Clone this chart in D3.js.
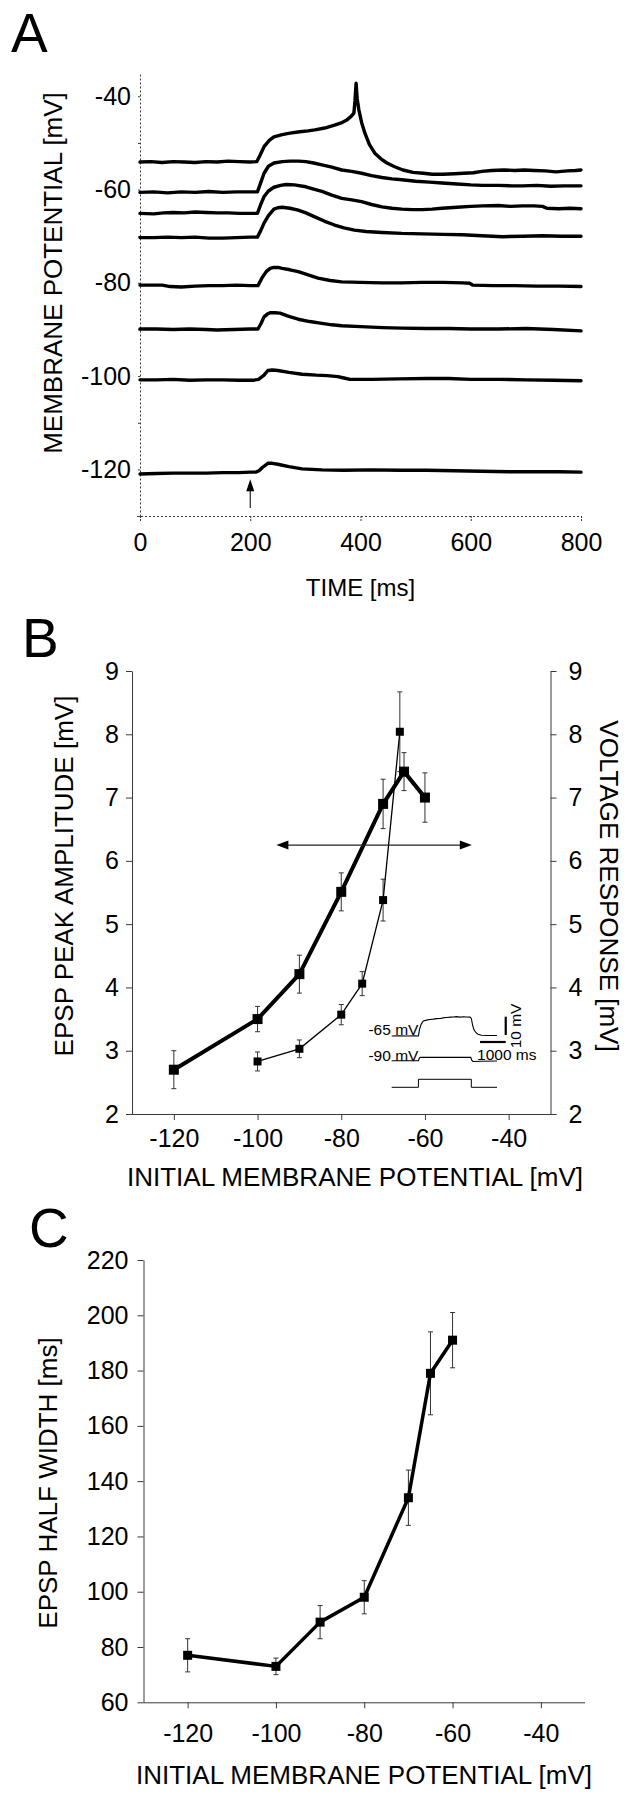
<!DOCTYPE html>
<html><head><meta charset="utf-8">
<script src="https://cdn.jsdelivr.net/npm/d3@7"></script>
<style>
body{margin:0;background:#fff;}
svg{display:block;}
text{font-family:"Liberation Sans",Arial,Helvetica,sans-serif;fill:#000;}
</style></head>
<body>
<svg id="fig" width="631" height="1800"></svg>
<script>
// ---------- Panel A data: membrane potential traces [time ms, mV] ----------
const timeTicksA = [0, 200, 400, 600, 800];
const mvTicksA = [-130, -120, -110, -100, -90, -80, -70, -60, -50, -40];
const stimTimeA = 200;
const trace1 = [[0,-54.1],[20,-54.0],[40,-54.2],[60,-54.0],[80,-54.1],[100,-54.2],[120,-54.0],[140,-54.1],[160,-53.9],[180,-54.0],[200,-54.1],[212,-54.0],[218,-52.6],[225,-50.8],[235,-49.4],[243,-48.7],[258,-48.2],[272,-47.9],[290,-47.6],[305,-47.4],[317,-47.2],[335,-46.8],[353,-46.2],[365,-45.7],[375,-45.1],[383,-44.3],[388,-43.6],[390,-41.0],[392,-37.2],[394,-40.5],[397,-42.9],[402,-45.6],[408,-47.9],[416,-50.3],[426,-52.2],[437,-53.4],[448,-54.3],[462,-55.1],[477,-55.8],[495,-56.3],[514,-56.5],[530,-56.7],[550,-56.7],[570,-56.6],[587,-56.5],[605,-56.4],[620,-56.1],[638,-55.9],[660,-55.8],[680,-55.9],[697,-55.8],[715,-55.9],[735,-56.0],[755,-56.2],[775,-56.0],[790,-55.9],[800,-55.8]];
const trace2 = [[0,-60.6],[25,-60.5],[50,-60.7],[75,-60.5],[100,-60.6],[125,-60.4],[150,-60.6],[175,-60.5],[200,-60.5],[213,-60.5],[220,-58.2],[225,-56.5],[233,-55.0],[243,-54.3],[258,-54.0],[272,-53.9],[287,-53.9],[301,-54.0],[315,-54.3],[330,-54.7],[348,-55.2],[366,-55.8],[384,-56.1],[402,-56.5],[420,-57.0],[439,-57.4],[457,-57.7],[475,-57.9],[500,-58.2],[525,-58.4],[548,-58.6],[575,-58.8],[600,-59.0],[621,-59.1],[650,-59.1],[675,-59.2],[694,-59.2],[720,-59.1],[745,-59.3],[770,-59.2],[800,-59.2]];
const trace3 = [[0,-65.1],[25,-65.2],[43,-65.0],[60,-64.9],[80,-65.0],[100,-64.8],[120,-64.9],[140,-65.0],[160,-65.0],[180,-65.1],[200,-65.1],[213,-65.1],[219,-63.2],[225,-61.5],[233,-60.3],[243,-59.5],[255,-59.1],[265,-58.9],[280,-59.0],[301,-59.4],[315,-59.9],[330,-60.4],[348,-61.2],[366,-61.9],[384,-62.2],[402,-62.6],[420,-63.2],[439,-63.7],[457,-64.0],[475,-64.2],[494,-64.3],[512,-64.3],[530,-64.2],[548,-64.0],[575,-63.8],[600,-63.6],[621,-63.5],[650,-63.4],[672,-63.6],[694,-63.5],[715,-63.5],[730,-63.6],[738,-64.0],[760,-64.1],[780,-64.0],[800,-64.1]];
const trace4 = [[0,-70.3],[25,-70.3],[50,-70.2],[75,-70.3],[100,-70.2],[125,-70.4],[150,-70.4],[175,-70.3],[200,-70.2],[213,-70.2],[219,-68.8],[225,-67.2],[233,-65.6],[243,-64.2],[250,-63.9],[258,-63.8],[272,-64.0],[287,-64.4],[301,-65.0],[316,-65.8],[335,-66.8],[353,-67.6],[370,-68.2],[389,-68.7],[410,-69.0],[439,-69.2],[475,-69.4],[512,-69.5],[550,-69.6],[585,-69.7],[620,-69.9],[658,-70.1],[695,-70.0],[731,-69.9],[765,-70.0],[800,-70.0]];
const trace5 = [[0,-80.5],[25,-80.5],[40,-80.5],[55,-80.8],[75,-80.9],[100,-80.7],[125,-80.6],[150,-80.6],[175,-80.5],[200,-80.6],[214,-80.6],[222,-78.8],[229,-77.6],[236,-76.9],[243,-76.7],[250,-76.7],[258,-76.9],[272,-77.2],[287,-77.6],[305,-78.3],[323,-79.0],[345,-79.5],[366,-79.8],[400,-79.9],[439,-80.0],[475,-80.0],[512,-79.9],[550,-79.9],[585,-80.0],[598,-80.1],[604,-80.5],[640,-80.6],[680,-80.6],[720,-80.7],[760,-80.7],[800,-80.8]];
const trace6 = [[0,-89.9],[30,-89.9],[60,-90.0],[90,-89.9],[120,-90.0],[140,-90.1],[170,-90.0],[200,-89.9],[214,-89.9],[220,-88.6],[225,-87.3],[231,-86.7],[236,-86.4],[245,-86.4],[254,-86.5],[270,-87.2],[287,-87.8],[308,-88.3],[330,-88.7],[348,-89.0],[366,-89.2],[400,-89.4],[440,-89.6],[475,-89.7],[520,-89.8],[560,-89.8],[600,-89.9],[650,-89.9],[700,-89.8],[750,-90.0],[800,-90.3]];
const trace7 = [[0,-100.8],[30,-100.8],[60,-100.7],[90,-100.9],[120,-100.8],[150,-100.8],[180,-100.9],[205,-100.9],[215,-100.7],[225,-99.8],[232,-98.8],[240,-98.7],[250,-98.8],[270,-99.2],[294,-99.6],[320,-99.8],[340,-99.9],[359,-100.1],[370,-100.4],[381,-100.7],[420,-100.7],[470,-100.6],[520,-100.5],[560,-100.5],[600,-100.7],[650,-100.7],[700,-100.8],[750,-100.9],[800,-101.0]];
const trace8 = [[0,-121.0],[30,-120.9],[60,-120.8],[90,-120.8],[120,-120.8],[150,-120.7],[180,-120.7],[200,-120.6],[210,-120.6],[216,-120.3],[222,-119.6],[232,-118.7],[240,-118.7],[250,-118.9],[270,-119.4],[294,-119.9],[330,-120.1],[370,-120.2],[420,-120.1],[470,-120.2],[520,-120.2],[570,-120.3],[620,-120.4],[670,-120.5],[720,-120.5],[760,-120.5],[800,-120.6]];
const tracesA = [trace1, trace2, trace3, trace4, trace5, trace6, trace7, trace8];

// ---------- Panel B data ----------
const potentialTicks = [-120, -100, -80, -60, -40];
const ampTicks = [2, 3, 4, 5, 6, 7, 8, 9];
const epspV    = [-120, -100, -90, -80, -70, -65, -60];
const epspAmp  = [2.70, 3.50, 4.21, 5.51, 6.90, 7.41, 7.00];
const epspErr  = [0.30, 0.20, 0.30, 0.30, 0.39, 0.30, 0.39];
const respV    = [-100, -90, -80, -75, -70, -66];
const respAmp  = [2.83, 3.03, 3.57, 4.06, 5.38, 8.04];
const respErr  = [0.15, 0.14, 0.16, 0.19, 0.33, 0.63];
const arrowB   = {from: -95.5, to: -48.8, level: 6.25};
// inset: time (ms) vs. deflection (mV) relative to holding potential
const insetTrace65 = [[0,0],[300,0.1],[600,0],[900,0.1],[1040,0],[1080,3.5],[1150,6.5],[1230,8.2],[1400,8.8],[1490,9.0],[1620,9.2],[1750,9.5],[1900,9.6],[2000,9.9],[2130,10.1],[2300,10.3],[2400,10.4],[2520,10.6],[2650,10.3],[2800,10.5],[2900,10.4],[3050,10.3],[3100,9.6],[3150,6.0],[3200,3.5],[3280,1.8],[3360,1.0],[3500,0.4],[3700,0.3],[4100,0.3]];
const insetTrace90 = [[0,0],[1040,0],[1080,1.5],[1120,1.9],[1500,1.8],[2000,1.9],[2500,1.8],[3080,1.8],[3110,0.4],[3160,-0.4],[3500,-0.3],[4100,-0.2]];
const insetStep = [[0,0],[1040,0],[1040,1],[3100,1],[3100,0],[4100,0]];
const insetLabels = ["-65 mV", "-90 mV"];

// ---------- Panel C data ----------
const widthTicks = [60, 80, 100, 120, 140, 160, 180, 200, 220];
const hwV   = [-120, -100, -90, -80, -70, -65, -60];
const hwMs  = [77, 73, 89, 98, 134, 179, 191];
const hwErr = [6, 3, 6, 6, 10, 15, 10];

// ---------- drawing ----------
const svg = d3.select("#fig");
const FONT_TICK = 25, FONT_TITLE = 26;
const AX = "#3a3a3a";
const fmt = d => String(d);   // plain hyphen-minus like the original

function styleAxis(g, dashed) {
  g.selectAll(".domain").attr("stroke", AX).attr("stroke-width", 1).attr("stroke-dasharray", dashed ? "2,2" : null);
  g.selectAll(".tick line").attr("stroke", AX).attr("stroke-width", 1).attr("stroke-dasharray", dashed ? "2,1" : null);
  g.selectAll(".tick text").attr("font-size", FONT_TICK).attr("fill", "#000")
    .attr("font-family", '"Liberation Sans", Arial, sans-serif');
}
function panelLetter(t, x, y) {
  svg.append("text").attr("x", x).attr("y", y).attr("font-size", 55).text(t);
}
function vTitle(t, cx, cy, rot) {
  svg.append("text").attr("transform", `translate(${cx},${cy}) rotate(${rot})`)
    .attr("text-anchor", "middle").attr("font-size", FONT_TITLE).text(t);
}

// ===== Panel A =====
const xA = d3.scaleLinear().domain([0, 800]).range([140, 581]);
const yA = d3.scaleLinear().domain([-130, -35]).range([516, 73]);
panelLetter("A", 11, 52);

const gAy = svg.append("g").attr("transform", `translate(${xA(0)},0)`)
  .call(d3.axisLeft(yA).tickValues(mvTicksA).tickSize(3).tickSizeOuter(0).tickPadding(6)
    .tickFormat(d => (d % 20 === 0) ? fmt(d) : ""));
styleAxis(gAy, true);
const gAx = svg.append("g").attr("transform", `translate(0,${yA(-130)})`)
  .call(d3.axisBottom(xA).tickValues(timeTicksA).tickSize(5).tickSizeOuter(0).tickPadding(12).tickFormat(fmt));
styleAxis(gAx, true);
gAx.select(".domain").attr("d", `M${xA(0)-3},0.5H${xA(800)}`);

const lineA = d3.line().x(d => xA(d[0])).y(d => yA(d[1]));
svg.append("g").selectAll("path").data(tracesA).join("path")
  .attr("d", lineA).attr("fill", "none").attr("stroke", "#000")
  .attr("stroke-width", 3.4).attr("stroke-linejoin", "round").attr("stroke-linecap", "round");

// stimulus arrow
{
  const ax = xA(stimTimeA), tip = yA(-122.1), tail = yA(-128.3);
  svg.append("line").attr("x1", ax).attr("x2", ax).attr("y1", tip + 8).attr("y2", tail)
    .attr("stroke", "#222").attr("stroke-width", 1.2);
  svg.append("path").attr("d", `M${ax},${tip}L${ax-4},${tip+12}L${ax+4},${tip+12}Z`).attr("fill", "#000");
}
vTitle("MEMBRANE POTENTIAL [mV]", 62, 273, -90);
svg.append("text").attr("x", (xA(0) + xA(800)) / 2).attr("y", 596).attr("text-anchor", "middle")
  .attr("font-size", 24).text("TIME [ms]");

// ===== Panel B =====
const xB = d3.scaleLinear().domain([-130, -30]).range([132, 550.5]);
const yB = d3.scaleLinear().domain([2, 9]).range([1114, 671]);
panelLetter("B", 22, 657);

const gBl = svg.append("g").attr("transform", `translate(${xB(-130)},0)`)
  .call(d3.axisLeft(yB).tickValues(ampTicks).tickSize(6).tickSizeOuter(0).tickPadding(7).tickFormat(fmt));
styleAxis(gBl, false);
const gBr = svg.append("g").attr("transform", `translate(${xB(-30)},0)`)
  .call(d3.axisRight(yB).tickValues(ampTicks).tickSize(6).tickSizeOuter(0).tickPadding(12).tickFormat(fmt));
styleAxis(gBr, false);
const gBx = svg.append("g").attr("transform", `translate(0,${yB(2)})`)
  .call(d3.axisBottom(xB).tickValues(potentialTicks).tickSize(6).tickSizeOuter(0).tickPadding(9).tickFormat(fmt));
styleAxis(gBx, false);
gBx.select(".domain").attr("d", `M${xB(-130)},0.5H${xB(-30)+6}`);

// error bars
function errBars(g, xs, ys, es, xS, yS, cap) {
  xs.forEach((v, i) => {
    const x = xS(v), y1 = yS(ys[i] + es[i]), y2 = yS(ys[i] - es[i]);
    g.append("line").attr("x1", x).attr("x2", x).attr("y1", y1).attr("y2", y2).attr("stroke", "#333").attr("stroke-width", 1);
    g.append("line").attr("x1", x - cap).attr("x2", x + cap).attr("y1", y1).attr("y2", y1).attr("stroke", "#333").attr("stroke-width", 1);
    g.append("line").attr("x1", x - cap).attr("x2", x + cap).attr("y1", y2).attr("y2", y2).attr("stroke", "#333").attr("stroke-width", 1);
  });
}
const gB = svg.append("g");
errBars(gB, epspV, epspAmp, epspErr, xB, yB, 2.5);
errBars(gB, respV, respAmp, respErr, xB, yB, 2.5);
const lineB = d3.line().x(d => xB(d[0])).y(d => yB(d[1]));
gB.append("path").attr("d", lineB(respV.map((v, i) => [v, respAmp[i]])))
  .attr("fill", "none").attr("stroke", "#000").attr("stroke-width", 1.3);
gB.append("path").attr("d", lineB(epspV.map((v, i) => [v, epspAmp[i]])))
  .attr("fill", "none").attr("stroke", "#000").attr("stroke-width", 4).attr("stroke-linejoin", "round");
gB.selectAll("rect.ep").data(epspV).join("rect").attr("class", "ep")
  .attr("x", (d) => xB(d) - 5).attr("y", (d, i) => yB(epspAmp[i]) - 5).attr("width", 10).attr("height", 10).attr("fill", "#000");
gB.selectAll("rect.rs").data(respV).join("rect").attr("class", "rs")
  .attr("x", (d) => xB(d) - 4).attr("y", (d, i) => yB(respAmp[i]) - 4).attr("width", 8).attr("height", 8).attr("fill", "#000");

// double arrow
{
  const x1 = xB(arrowB.from), x2 = xB(arrowB.to), y = yB(arrowB.level);
  gB.append("line").attr("x1", x1 + 8).attr("x2", x2 - 8).attr("y1", y).attr("y2", y).attr("stroke", "#222").attr("stroke-width", 1.2);
  gB.append("path").attr("d", `M${x1},${y}L${x1+12},${y-4.5}L${x1+12},${y+4.5}Z`).attr("fill", "#000");
  gB.append("path").attr("d", `M${x2},${y}L${x2-12},${y-4.5}L${x2-12},${y+4.5}Z`).attr("fill", "#000");
}

// inset
{
  const xI = d3.scaleLinear().domain([0, 4100]).range([391.7, 497]);
  const y65 = d3.scaleLinear().domain([0, 10]).range([1036, 1017.7]);
  const y90 = d3.scaleLinear().domain([0, 10]).range([1060.7, 1042.4]);
  const yS = d3.scaleLinear().domain([0, 1]).range([1087.3, 1079.3]);
  const gi = svg.append("g");
  gi.append("path").attr("d", d3.line().x(d => xI(d[0])).y(d => y65(d[1]))(insetTrace65)).attr("fill", "none").attr("stroke", "#000").attr("stroke-width", 1.1);
  gi.append("path").attr("d", d3.line().x(d => xI(d[0])).y(d => y90(d[1]))(insetTrace90)).attr("fill", "none").attr("stroke", "#000").attr("stroke-width", 1.1);
  gi.append("path").attr("d", d3.line().x(d => xI(d[0])).y(d => yS(d[1]))(insetStep)).attr("fill", "none").attr("stroke", "#000").attr("stroke-width", 1);
  gi.append("text").attr("x", xI(1040)).attr("y", y65(0) - 1).attr("text-anchor", "end").attr("font-size", 15.5).text(insetLabels[0]);
  gi.append("text").attr("x", xI(1040)).attr("y", y90(0) + 0.5).attr("text-anchor", "end").attr("font-size", 15.5).text(insetLabels[1]);
  // scale bars
  gi.append("line").attr("x1", xI(4440)).attr("x2", xI(4440)).attr("y1", y65(0.55)).attr("y2", y65(10.55)).attr("stroke", "#000").attr("stroke-width", 2.2);
  gi.append("line").attr("x1", xI(3440)).attr("x2", xI(4440)).attr("y1", 1042).attr("y2", 1042).attr("stroke", "#000").attr("stroke-width", 2.2);
  gi.append("text").attr("transform", `translate(${xI(4440) + 15.5},${y65(5.5)}) rotate(-90)`).attr("text-anchor", "middle").attr("font-size", 15.5).text("10 mV");
  gi.append("text").attr("x", xI(3440) - 3).attr("y", 1060).attr("font-size", 15.5).text("1000 ms");
}
vTitle("EPSP PEAK AMPLITUDE [mV]", 73, 876, -90);
vTitle("VOLTAGE RESPONSE [mV]", 600, 886, 90);
svg.append("text").attr("x", 355).attr("y", 1186).attr("text-anchor", "middle").attr("font-size", FONT_TITLE)
  .text("INITIAL MEMBRANE POTENTIAL [mV]");

// ===== Panel C =====
const xC = d3.scaleLinear().domain([-130, -30]).range([143.5, 585]);
const yC = d3.scaleLinear().domain([60, 220]).range([1702.3, 1260]);
panelLetter("C", 29, 1247);
const gCy = svg.append("g").attr("transform", `translate(${xC(-130)},0)`)
  .call(d3.axisLeft(yC).tickValues(widthTicks).tickSize(6).tickSizeOuter(0).tickPadding(9).tickFormat(fmt));
styleAxis(gCy, false);
const gCx = svg.append("g").attr("transform", `translate(0,${yC(60)})`)
  .call(d3.axisBottom(xC).tickValues(potentialTicks).tickSize(6).tickSizeOuter(0).tickPadding(16).tickFormat(fmt));
styleAxis(gCx, false);
gCx.select(".domain").attr("d", `M${xC(-130)},0.5H${xC(-30)}`);
const gC = svg.append("g");
errBars(gC, hwV, hwMs, hwErr, xC, yC, 2.5);
gC.append("path").attr("d", d3.line().x(d => xC(d[0])).y(d => yC(d[1]))(hwV.map((v, i) => [v, hwMs[i]])))
  .attr("fill", "none").attr("stroke", "#000").attr("stroke-width", 3.5).attr("stroke-linejoin", "round");
gC.selectAll("rect").data(hwV).join("rect")
  .attr("x", d => xC(d) - 4.5).attr("y", (d, i) => yC(hwMs[i]) - 4.5).attr("width", 9).attr("height", 9).attr("fill", "#000");
vTitle("EPSP HALF WIDTH [ms]", 57, 1483, -90);
svg.append("text").attr("x", 364).attr("y", 1784).attr("text-anchor", "middle").attr("font-size", FONT_TITLE)
  .text("INITIAL MEMBRANE POTENTIAL [mV]");
</script>
</body></html>
